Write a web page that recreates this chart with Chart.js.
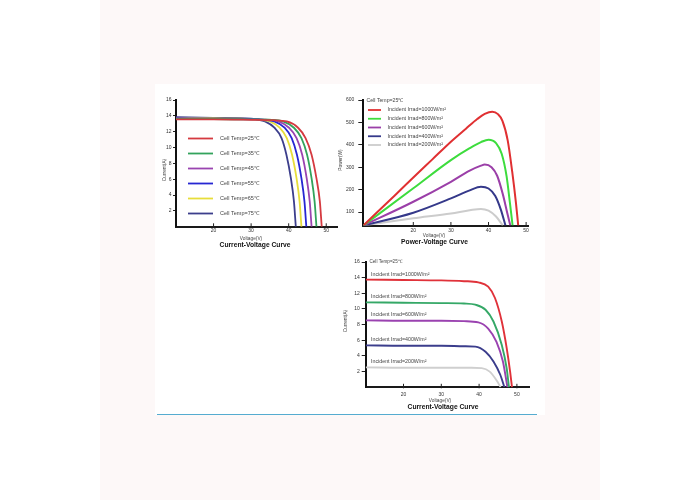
<!DOCTYPE html>
<html>
<head>
<meta charset="utf-8">
<title>Solar module curves</title>
<script src="https://cdn.jsdelivr.net/npm/chart.js@4.4.1/dist/chart.umd.min.js"></script>
<style>
  html, body { margin: 0; padding: 0; background: #fff; }
  #page { position: relative; width: 700px; height: 500px; overflow: hidden; background: #fff; }
  #panel { position: absolute; left: 100px; top: 0; width: 500px; height: 500px; background: #fdf8f8; }
  #sheet { position: absolute; left: 155px; top: 84px; width: 390px; height: 331px; background: #fff; }
  #rule { position: absolute; left: 157px; top: 414px; width: 380px; height: 1px; background: #55acd0; }
  canvas { position: absolute; left: 0; top: 0; }
</style>
</head>
<body>
<div id="page">
  <div id="panel"></div>
  <div id="sheet"></div>
  <div id="rule"></div>
  <canvas id="tempChart" width="700" height="500"></canvas>
  <canvas id="powerChart" width="700" height="500"></canvas>
  <canvas id="irradChart" width="700" height="500"></canvas>
</div>

<script>
//tick-värden
const voltTicks = [20, 30, 40, 50];
const currentTicks = [2, 4, 6, 8, 10, 12, 14, 16];
const powerTicks = [100, 200, 300, 400, 500, 600];

//texter
const ivTitle = 'Current-Voltage Curve';
const pvTitle = 'Power-Voltage Curve';
const voltTitle = 'Voltage(V)';
const currentTitle = 'Current(A)';
const powerTitle = 'Power(W)';
const cellTempNote = 'Cell Temp=25℃';

//I-V vid olika celltemperaturer
const tempLabels = ['Cell Temp=25℃', 'Cell Temp=35℃', 'Cell Temp=45℃', 'Cell Temp=55℃', 'Cell Temp=65℃', 'Cell Temp=75℃'];
const tempColors = ['#d53a40', '#33a35c', '#9a44b0', '#2727d2', '#e7dd3b', '#3c3e8c'];
const t25V = [10, 20, 30, 36, 39.5, 42.5, 44.5, 46.1, 47.4, 48.3, 48.8];
const t25I = [13.55, 13.55, 13.5, 13.45, 13.3, 12.5, 11.2, 9.1, 6.1, 3.2, 0];
const t35V = [10, 20, 30, 35.5, 38.5, 41.4, 43.4, 44.9, 46.1, 46.9, 47.4];
const t35I = [13.6, 13.6, 13.55, 13.5, 13.3, 12.5, 11.2, 9.1, 6.1, 3.2, 0];
const t45V = [10, 20, 30, 34.5, 37.3, 40.1, 42.1, 43.6, 44.8, 45.6, 46.1];
const t45I = [13.65, 13.6, 13.55, 13.5, 13.3, 12.5, 11.2, 9.1, 6.1, 3.2, 0];
const t55V = [10, 20, 30, 33.5, 36.2, 38.9, 40.8, 42.2, 43.4, 44.2, 44.7];
const t55I = [13.7, 13.65, 13.6, 13.5, 13.3, 12.5, 11.2, 9.1, 6.1, 3.2, 0];
const t65V = [10, 20, 30, 32.5, 35, 37.6, 39.5, 40.9, 42.1, 42.9, 43.4];
const t65I = [13.75, 13.7, 13.6, 13.5, 13.3, 12.5, 11.2, 9.1, 6.1, 3.2, 0];
const t75V = [10, 20, 30, 31.5, 33.7, 36.2, 38.1, 39.4, 40.6, 41.4, 41.9];
const t75I = [13.85, 13.75, 13.65, 13.55, 13.3, 12.5, 11.2, 9.1, 6.1, 3.2, 0];

//P-V vid olika instrålning
const irradLabels = ['Incident Irrad=1000W/m²', 'Incident Irrad=800W/m²', 'Incident Irrad=600W/m²', 'Incident Irrad=400W/m²', 'Incident Irrad=200W/m²'];
const powerColors = ['#e03032', '#3ddc3d', '#9b3fa8', '#35398a', '#cccccc'];
const p1000V = [6.7, 15, 20, 25, 30, 34, 37, 39, 41, 42.5, 43.7, 45.1, 46.3, 47.3, 47.9];
const p1000P = [40, 173, 254, 334, 414, 472, 515, 538, 548, 537, 507, 420, 280, 140, 40];
const p800V = [6.7, 20, 30, 35, 38, 40, 42, 43.5, 44.8, 45.7, 46.4];
const p800P = [40, 206, 332, 385, 412, 423, 408, 360, 260, 140, 40];
const p600V = [6.7, 20, 30, 35, 38, 39, 40.8, 42.3, 43.8, 45, 45.8];
const p600P = [40, 146, 235, 285, 307, 312, 300, 262, 180, 95, 40];
const p400V = [6.7, 20, 30, 35, 38, 40, 41.8, 43.3, 44.5];
const p400P = [40, 97, 161, 197, 213, 205, 172, 110, 40];
const p200V = [6.7, 20, 30, 35, 38, 40, 42, 43.8];
const p200P = [40, 72, 94, 108, 114, 106, 80, 40];

//I-V vid olika instrålning
const irradColors = ['#e0323a', '#35a867', '#9a42b0', '#3b3d8c', '#cfcfcf'];
const i1000V = [10, 20, 30, 36, 39.8, 42.4, 44.2, 46, 47.3, 48.2, 48.7];
const i1000I = [13.75, 13.7, 13.65, 13.55, 13.4, 12.85, 11.4, 8.4, 5.0, 2.0, 0];
const i800V = [10, 20, 30, 36, 39, 41.7, 43.8, 46, 47.3, 47.9];
const i800I = [10.85, 10.8, 10.75, 10.7, 10.55, 9.9, 8.4, 5.4, 2.4, 0];
const i600V = [10, 20, 30, 36, 39.8, 42.4, 44.6, 46.3, 47.5];
const i600I = [8.55, 8.5, 8.5, 8.45, 8.3, 7.5, 5.8, 3.3, 0];
const i400V = [10, 20, 30, 36, 39, 41.7, 43.8, 45.6, 46.7];
const i400I = [5.35, 5.3, 5.3, 5.25, 5.2, 4.55, 3.3, 1.6, 0];
const i200V = [10, 20, 30, 38, 40.7, 42.8, 44.6, 45.7];
const i200I = [2.55, 2.5, 2.5, 2.5, 2.45, 2.0, 0.9, 0];

const FONT = '"Liberation Sans", Arial, sans-serif';

//hjälpfunktioner
const pts = (xs, ys) => xs.map((x, i) => ({ x: x, y: ys[i] }));

const curve = (label, color, xs, ys, width) => ({
    label: label,
    data: pts(xs, ys),
    borderColor: color,
    borderWidth: width,
    pointRadius: 0,
    fill: false,
    cubicInterpolationMode: 'monotone'
});

function txt(ctx, text, x, y, size, opts = {}) {
    ctx.save();
    ctx.font = (opts.bold ? 'bold ' : '') + size + 'px ' + FONT;
    ctx.fillStyle = opts.color || '#222';
    ctx.textAlign = opts.align || 'left';
    ctx.textBaseline = 'middle';
    ctx.translate(x, y);
    if (opts.rotate) ctx.rotate(opts.rotate);
    ctx.fillText(text, 0, 0);
    ctx.restore();
}

function seg(ctx, x1, y1, x2, y2, color, width) {
    ctx.save();
    ctx.strokeStyle = color;
    ctx.lineWidth = width;
    ctx.beginPath();
    ctx.moveTo(x1, y1);
    ctx.lineTo(x2, y2);
    ctx.stroke();
    ctx.restore();
}

//små tickmarkeringar som går upp i diagrammet
function innerTicks(chart) {
    const xs = chart.scales.x;
    const b = chart.chartArea.bottom;
    voltTicks.forEach(v => {
        const px = xs.getPixelForValue(v);
        seg(chart.ctx, px, b + 1, px, b - 3.5, '#222', 1);
    });
}

function axes(c) {
    return {
        x: {
            type: 'linear',
            min: c.xMin,
            max: c.xMax,
            afterBuildTicks: s => { s.ticks = voltTicks.map(v => ({ value: v })); },
            afterFit: s => { s.height = 30; },
            grid: { drawOnChartArea: false, drawTicks: false },
            border: { color: '#1a1a1a', width: 2 },
            ticks: { font: { size: 5, family: FONT }, color: '#333', padding: c.xPad, maxRotation: 0, autoSkip: false, callback: v => v }
        },
        y: {
            type: 'linear',
            min: c.yMin,
            max: c.yMax,
            afterBuildTicks: s => { s.ticks = c.yTicks.map(v => ({ value: v })); },
            afterFit: s => { s.width = 30; },
            grid: { drawOnChartArea: false, drawTicks: true, tickLength: c.tickLen, color: '#222', lineWidth: 1 },
            border: { color: '#111', width: 2 },
            ticks: { font: { size: 5, family: FONT }, color: '#333', padding: c.yPad, autoSkip: false, callback: v => v }
        }
    };
}

function baseOptions(c) {
    return {
        responsive: false,
        animation: false,
        events: [],
        layout: { padding: c.pad },
        scales: axes(c),
        plugins: { legend: { display: false }, tooltip: { enabled: false } }
    };
}

document.addEventListener("DOMContentLoaded", () => {
    //temperaturdiagram
    const tempV = [t25V, t35V, t45V, t55V, t65V, t75V];
    const tempI = [t25I, t35I, t45I, t55I, t65I, t75I];
    new Chart(document.getElementById('tempChart'), {
        type: 'line',
        data: {
            datasets: tempLabels.map((l, i) => curve(l, tempColors[i], tempV[i], tempI[i], 1.8))
        },
        options: baseOptions({
            xMin: 10, xMax: 53, yMin: 0, yMax: 16, yTicks: currentTicks,
            tickLen: 3, yPad: 1.5, xPad: 1.2,
            pad: { left: 146, right: 362.5, top: 100, bottom: 243.2 }
        }),
        plugins: [{
            id: 'tempText',
            afterDraw(chart) {
                const ctx = chart.ctx;
                tempLabels.forEach((label, i) => {
                    const y = 138.5 + i * 15;
                    seg(ctx, 188, y, 213, y, tempColors[i], 1.8);
                    txt(ctx, label, 220, y, 5.5, { color: '#444' });
                });
                txt(ctx, currentTitle, 164.5, 170, 4.8, { align: 'center', rotate: -Math.PI / 2, color: '#444' });
                txt(ctx, voltTitle, 251, 239, 4.8, { align: 'center', color: '#444' });
                txt(ctx, ivTitle, 255, 245.5, 6.7, { align: 'center', bold: true, color: '#111' });
                innerTicks(chart);
            }
        }]
    });

    //effektdiagram
    const powV = [p1000V, p800V, p600V, p400V, p200V];
    const powP = [p1000P, p800P, p600P, p400P, p200P];
    new Chart(document.getElementById('powerChart'), {
        type: 'line',
        data: {
            datasets: irradLabels.map((l, i) => curve(l, powerColors[i], powV[i], powP[i], 2))
        },
        options: baseOptions({
            xMin: 6.7, xMax: 50.5, yMin: 40, yMax: 600, yTicks: powerTicks,
            tickLen: 5, yPad: 4, xPad: 2.6,
            pad: { left: 333.3, right: 172, top: 100, bottom: 244.5 }
        }),
        plugins: [{
            id: 'powerText',
            afterDraw(chart) {
                const ctx = chart.ctx;
                txt(ctx, cellTempNote, 366.5, 100.5, 5.2, { color: '#444' });
                irradLabels.forEach((label, i) => {
                    const y = 110 + i * 8.75;
                    seg(ctx, 368, y, 381, y, powerColors[i], 1.8);
                    txt(ctx, label, 387.5, y, 5.3, { color: '#444' });
                });
                txt(ctx, powerTitle, 341, 160, 4.8, { align: 'center', rotate: -Math.PI / 2, color: '#444' });
                txt(ctx, voltTitle, 434, 236, 4.8, { align: 'center', color: '#444' });
                txt(ctx, pvTitle, 434.5, 242.5, 6.7, { align: 'center', bold: true, color: '#111' });
                innerTicks(chart);
            }
        }]
    });

    //strömdiagram vid olika instrålning
    const irrV = [i1000V, i800V, i600V, i400V, i200V];
    const irrI = [i1000I, i800I, i600I, i400I, i200I];
    new Chart(document.getElementById('irradChart'), {
        type: 'line',
        data: {
            datasets: irradLabels.map((l, i) => curve(l, irradColors[i], irrV[i], irrI[i], 1.9))
        },
        options: baseOptions({
            xMin: 10, xMax: 53.2, yMin: 0, yMax: 16, yTicks: currentTicks,
            tickLen: 4, yPad: 2, xPad: 4,
            pad: { left: 335.7, right: 171, top: 262, bottom: 82.7 }
        }),
        plugins: [{
            id: 'irradText',
            afterDraw(chart) {
                const ctx = chart.ctx;
                const ys = chart.scales.y;
                txt(ctx, cellTempNote, 369.5, 261.5, 4.6, { color: '#444' });
                //etiketten ligger strax ovanför respektive kurva
                irradLabels.forEach((label, i) => {
                    const y = ys.getPixelForValue(irrI[i][0]) - 5.5;
                    txt(ctx, label, 371, y, 5.3, { color: '#444' });
                });
                txt(ctx, currentTitle, 346, 321, 4.8, { align: 'center', rotate: -Math.PI / 2, color: '#444' });
                txt(ctx, voltTitle, 440, 400.5, 4.8, { align: 'center', color: '#444' });
                txt(ctx, ivTitle, 443, 407.5, 6.7, { align: 'center', bold: true, color: '#111' });
                innerTicks(chart);
            }
        }]
    });
});
</script>
</body>
</html>
